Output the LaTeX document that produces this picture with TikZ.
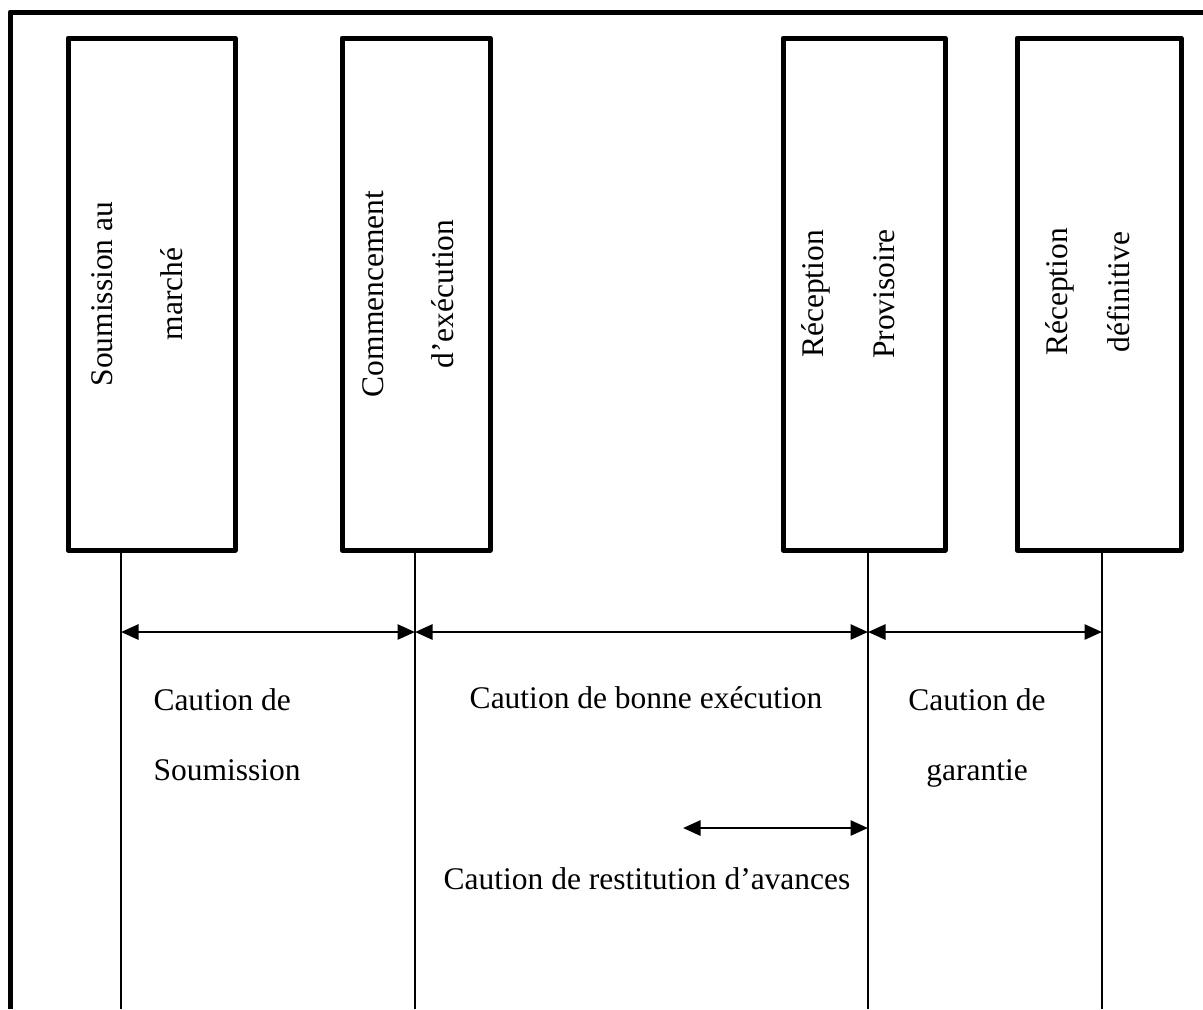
\documentclass[tikz,border=0pt]{standalone}
\usepackage{fontspec}
\setmainfont{Liberation Serif}
\usetikzlibrary{arrows.meta}
\begin{document}
\begin{tikzpicture}[x=0.4pt,y=-0.4pt,line join=round,>={Triangle[length=7pt,width=6pt]}]
	\tikzset{boite/.style={draw,line width=2pt,inner sep=0pt,minimum height=204.8pt},
		titre/.style={rotate=90,anchor=base,font=\fontsize{12.6}{15}\selectfont},
		texte/.style={anchor=base,inner sep=0pt,font=\fontsize{12.6}{15}\selectfont},
		fleche/.style={<->,line width=1.1pt},
		trait/.style={line width=0.6pt}}
	\useasboundingbox (0,0) rectangle (1203,1009);
	\draw[line width=2pt] (10,1009)--(10,12)--(1203,12);
	% etapes du marche
	\node[boite,minimum width=66.8pt] (soum) at (151.5,294) {};
	\node[boite,minimum width=59.2pt] (comm) at (416,294) {};
	\node[boite,minimum width=64.8pt] (prov) at (864,294) {};
	\node[boite,minimum width=65.6pt] (defi) at (1099,294) {};
	\node[titre] (soumA) at (112,294) {Soumission au};
	\node[titre] (soumB) at (182,294) {marché};
	\node[titre] (commA) at (383,294) {Commencement};
	\node[titre] (commB) at (453,294) {d’exécution};
	\node[titre] (provA) at (823,294) {Réception};
	\node[titre] (provB) at (894,294) {Provisoire};
	\node[titre] (defiA) at (1067,292) {Réception};
	\node[titre] (defiB) at (1129,292) {définitive};
	% lignes verticales
	\foreach \x/\n in {121/1,415/2,868/3,1102/4}{
		\coordinate (h\n) at (\x,550);
		\coordinate (m\n) at (\x,632);
		\coordinate (b\n) at (\x,1009);
		\draw[trait] (h\n)--(b\n);
	}
	% cautions
	\draw[fleche] (m1)--(m2);
	\draw[fleche] (m2)--(m3);
	\draw[fleche] (m3)--(m4);
	\coordinate (r) at (683,828);
	\draw[fleche] (r)--(r -| m3);
	\node[texte,anchor=base west] (cs1) at (153,710) {Caution de};
	\node[texte,anchor=base west] (cs2) at (153,780) {Soumission};
	\node[texte] (cb) at (646,708) {Caution de bonne exécution};
	\node[texte] (cg1) at (977,710) {Caution de};
	\node[texte] (cg2) at (977,780) {garantie};
	\node[texte] (cr) at (647,889) {Caution de restitution d’avances};
\end{tikzpicture}
\end{document}
